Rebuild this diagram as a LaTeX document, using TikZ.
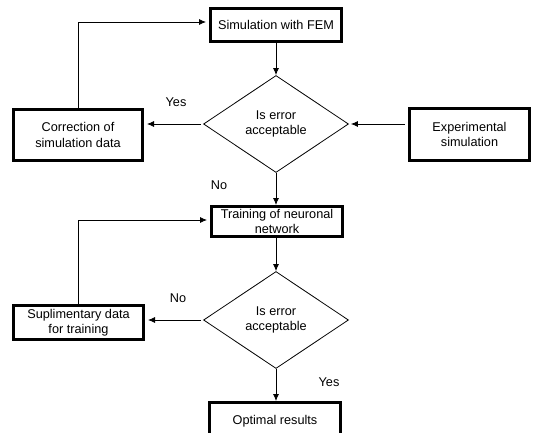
\documentclass[tikz,border=0pt]{standalone}
\usepackage{fontspec}
\setmainfont{Liberation Sans}
\usetikzlibrary{shapes.geometric,arrows.meta}
\begin{document}
\begin{tikzpicture}[x=1pt,y=-1pt,
  every node/.style={font=\fontsize{12.7}{15.5}\selectfont},
  box/.style={draw,line width=3pt,inner sep=0pt,align=center},
  decision/.style={draw,line width=0.8pt,diamond,inner sep=0pt,aspect=1.5,
    minimum width=145pt,minimum height=97pt,align=center},
  arr/.style={line width=0.8pt,-{Latex[length=7pt,width=6pt]}},
  lbl/.style={inner sep=0pt}]
\useasboundingbox (0,0) rectangle (533,433);
\clip (0,0) rectangle (533,433);
\fill[white] (0,0) rectangle (533,433);
\node[box,minimum width=131pt,minimum height=33pt] (fem) at (276,25) {Simulation with FEM};
\node[decision] (d1) at (276,124) {Is error\\acceptable};
\node[box,minimum width=129pt,minimum height=51pt] (corr) at (78,135) {Correction of\\simulation data};
\node[box,minimum width=120pt,minimum height=52pt] (exp) at (469.5,134.5) {Experimental\\simulation};
\node[box,minimum width=131pt,minimum height=30pt] (train) at (277,221.5) {Training of neuronal\\network};
\node[decision] (d2) at (276,320) {Is error\\acceptable};
\node[box,minimum width=130pt,minimum height=34pt] (sup) at (78.5,322.5) {Suplimentary data\\for training};
\node[box,minimum width=131pt,minimum height=37pt] (opt) at (275,421) {Optimal results};
\node[lbl] (yes1) at (176,102) {Yes};
\node[lbl] (no1) at (219,185) {No};
\node[lbl] (no2) at (178,298) {No};
\node[lbl] (yes2) at (329,382) {Yes};
\draw[arr] (fem.south) -- (d1.north);
\draw[arr,shorten <=2pt,shorten >=3pt] (d1.west) -- (d1.west -| corr.east);
\draw[arr,shorten <=3pt,shorten >=2pt] (d1.east -| exp.west) -- (d1.east);
\draw[arr] (d1.south) -- (d1.south |- train.north);
\draw[arr,shorten >=3pt] (corr.north) |- ([yshift=3pt]fem.west);
\draw[arr] (train.south -| d2.north) -- (d2.north);
\draw[arr,shorten <=2pt,shorten >=3pt] (d2.west) -- (d2.west -| sup.east);
\draw[arr,shorten >=3pt] (sup.north) |- ([yshift=1.5pt]train.west);
\draw[arr] (d2.south) -- (d2.south |- opt.north);
\end{tikzpicture}
\end{document}
